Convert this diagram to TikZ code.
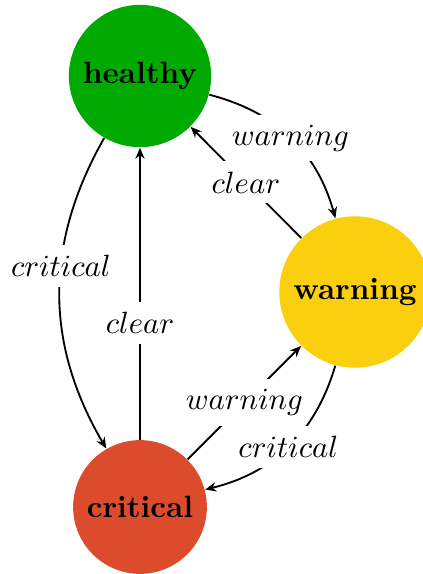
\documentclass[tikz,border=0pt]{standalone}
\usetikzlibrary{arrows.meta}
\definecolor{okgreen}{RGB}{0,170,0}
\definecolor{warnyellow}{RGB}{250,207,14}
\definecolor{critred}{RGB}{220,76,44}
\begin{document}
\begin{tikzpicture}[x=0.325pt,y=-0.325pt,
  state/.style={circle,font=\bfseries},
  trans/.style={-{Stealth[length=3.6pt,width=3pt]},semithick},
  lbl/.style={fill=white}]
  \useasboundingbox (0,0) rectangle (422,574);
  \node[state,fill=okgreen]    (healthy)  at (140,76)  {healthy};
  \node[state,fill=warnyellow] (warning)  at (355,292) {warning};
  \node[state,fill=critred]    (critical) at (140,507) {critical};

  \draw[trans] (healthy)  to[bend left=30]  node[lbl] {$warning$}  (warning);
  \draw[trans] (warning)  --                node[lbl] {$clear$}    (healthy);
  \draw[trans] (healthy)  to[bend right=30] node[lbl,pos=0.41] {$critical$} (critical);
  \draw[trans] (critical) --                node[lbl,pos=0.4] {$clear$}    (healthy);
  \draw[trans] (critical) --                node[lbl] {$warning$}  (warning);
  \draw[trans] (warning)  to[bend left=30]  node[lbl] {$critical$} (critical);
\end{tikzpicture}
\end{document}
